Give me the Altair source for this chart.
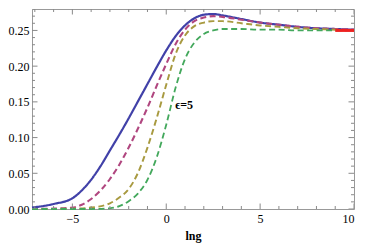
import altair as alt
import pandas as pd

# ---- data ----
series_names = ["s1", "s2", "s3", "s4"]
series_colors = ["#4141a8", "#b0467f", "#a89a40", "#43a85c"]

blue_x = [-7.15, -6, -5, -4.5, -4, -3.5, -3, -2.5, -2, -1.5, -1, -0.5, 0, 0.5, 1, 1.5, 2, 2.5, 3, 4, 5, 6, 7, 8, 9, 10]
blue_y = [0.002, 0.007, 0.015, 0.026, 0.041, 0.060, 0.082, 0.104, 0.127, 0.151, 0.175, 0.199, 0.222, 0.242, 0.257, 0.267, 0.272, 0.273, 0.271, 0.266, 0.261, 0.258, 0.255, 0.253, 0.252, 0.251]

purple_x = [-7.15, -6, -5, -4.5, -4, -3.5, -3, -2.5, -2, -1.5, -1, -0.5, 0, 0.5, 1, 1.5, 2, 2.5, 3, 4, 5, 6, 7, 8, 9, 10]
purple_y = [0.0, 0.0005, 0.002, 0.006, 0.014, 0.026, 0.042, 0.062, 0.086, 0.113, 0.142, 0.173, 0.203, 0.231, 0.251, 0.263, 0.268, 0.270, 0.269, 0.265, 0.261, 0.258, 0.255, 0.253, 0.252, 0.251]

olive_x = [-7.15, -5, -4, -3, -2.5, -2, -1.5, -1, -0.5, 0, 0.5, 1, 1.5, 2, 2.5, 3, 4, 5, 6, 7, 8, 9, 10]
olive_y = [0.0, 0.0005, 0.002, 0.008, 0.016, 0.028, 0.051, 0.086, 0.128, 0.174, 0.217, 0.243, 0.256, 0.261, 0.263, 0.263, 0.260, 0.257, 0.255, 0.253, 0.252, 0.251, 0.250]

green_x = [-7.15, -4, -3, -2.5, -2, -1.5, -1, -0.5, 0, 0.5, 1, 1.5, 2, 2.5, 3, 4, 5, 6, 7, 8, 9, 10]
green_y = [0.0, 0.0, 0.001, 0.004, 0.011, 0.022, 0.041, 0.073, 0.118, 0.170, 0.210, 0.233, 0.245, 0.250, 0.252, 0.252, 0.251, 0.251, 0.250, 0.250, 0.250, 0.250]

red_x = [9, 10]
red_y = [0.25, 0.25]

label_text = ["\u03f5=5"]
label_x = [0.95]
label_y = [0.145]

x_major = [-5, 0, 5, 10]
x_minor = [v for v in range(-7, 11) if v % 5 != 0]
y_major = [0.0, 0.05, 0.10, 0.15, 0.20, 0.25]
y_minor = [round(i * 0.01, 2) for i in range(0, 29) if i % 5 != 0]

X_MIN, X_MAX = -7.15, 10
Y_MIN, Y_MAX = 0.0, 0.28

# ---- build tables ----
rows = []
for name, xs_, ys_ in zip(series_names, [blue_x, purple_x, olive_x, green_x], [blue_y, purple_y, olive_y, green_y]):
    for i, (a, b) in enumerate(zip(xs_, ys_)):
        rows.append({"series": name, "x": a, "y": b, "order": i})
df = pd.DataFrame(rows)
red_df = pd.DataFrame({"x": red_x, "y": red_y})
lab_df = pd.DataFrame({"t": label_text, "x": label_x, "y": label_y})

# tick tables (frame ticks on all four sides, drawn inward by clipping)
xt = []
for v in x_major:
    for edge in (Y_MIN, Y_MAX):
        xt.append({"x": v, "y": edge, "kind": "major"})
for v in x_minor:
    for edge in (Y_MIN, Y_MAX):
        xt.append({"x": v, "y": edge, "kind": "minor"})
yt = []
for v in y_major:
    for edge in (X_MIN, X_MAX):
        yt.append({"x": edge, "y": v, "kind": "major"})
for v in y_minor:
    for edge in (X_MIN, X_MAX):
        yt.append({"x": edge, "y": v, "kind": "minor"})
xt_df = pd.DataFrame(xt)
yt_df = pd.DataFrame(yt)

xs = alt.Scale(domain=[X_MIN, X_MAX], nice=False, zero=False)
ys = alt.Scale(domain=[Y_MIN, Y_MAX], nice=False)
FONT = "Liberation Serif"
TICK = "#8a8a8a"

x_axis = alt.Axis(orient="bottom", values=x_major, ticks=False, domain=False, grid=False, title="lng",
                  labelPadding=4, titleFontWeight="bold", titlePadding=6, labelOverlap=False)
y_axis = alt.Axis(orient="left", values=y_major, format=".2f", ticks=False, domain=False, grid=False,
                  title=None, labelPadding=3, labelOverlap=False)

X = alt.X("x:Q", scale=xs, axis=x_axis, title="lng")
Y = alt.Y("y:Q", scale=ys, axis=y_axis, title=None)

lines = alt.Chart(df).mark_line(interpolate="monotone").encode(
    x=X, y=Y,
    color=alt.Color("series:N", scale=alt.Scale(domain=series_names, range=series_colors), legend=None),
    strokeDash=alt.StrokeDash("series:N", scale=alt.Scale(domain=series_names,
                                                          range=[[1, 0], [6, 3.5], [6, 3.5], [6, 3.5]]), legend=None),
    strokeWidth=alt.StrokeWidth("series:N", scale=alt.Scale(domain=series_names, range=[2.2, 1.8, 1.8, 1.8]), legend=None),
    order="order:Q",
)

xticks = alt.Chart(xt_df).mark_tick(orient="vertical", clip=True, color=TICK, thickness=1, opacity=1).encode(
    x=X, y=Y,
    size=alt.Size("kind:N", scale=alt.Scale(domain=["major", "minor"], range=[11, 6]), legend=None),
)
yticks = alt.Chart(yt_df).mark_tick(orient="horizontal", clip=True, color=TICK, thickness=1, opacity=1).encode(
    x=X, y=Y,
    size=alt.Size("kind:N", scale=alt.Scale(domain=["major", "minor"], range=[11, 6]), legend=None),
)

red = alt.Chart(red_df).mark_line(color="#ee2020", strokeWidth=3).encode(x=X, y=Y)

label = alt.Chart(lab_df).mark_text(font=FONT, fontSize=12, fontWeight="bold", color="black", align="center").encode(
    x=X, y=Y, text="t:N",
)

chart = alt.layer(lines, xticks, yticks, red, label).resolve_scale(size="independent").properties(
    width=358, height=235,
    autosize=alt.AutoSizeParams(type="fit", contains="padding"),
    padding={"left": 0, "top": 1, "right": 6, "bottom": 2},
).configure_view(
    stroke="#999999", strokeWidth=1
).configure_axis(
    labelFont=FONT, labelFontSize=12, labelColor="black",
    titleFont=FONT, titleFontSize=12, titleColor="black",
)

chart.save("out.html", embed_options={"renderer": "svg", "actions": False})
